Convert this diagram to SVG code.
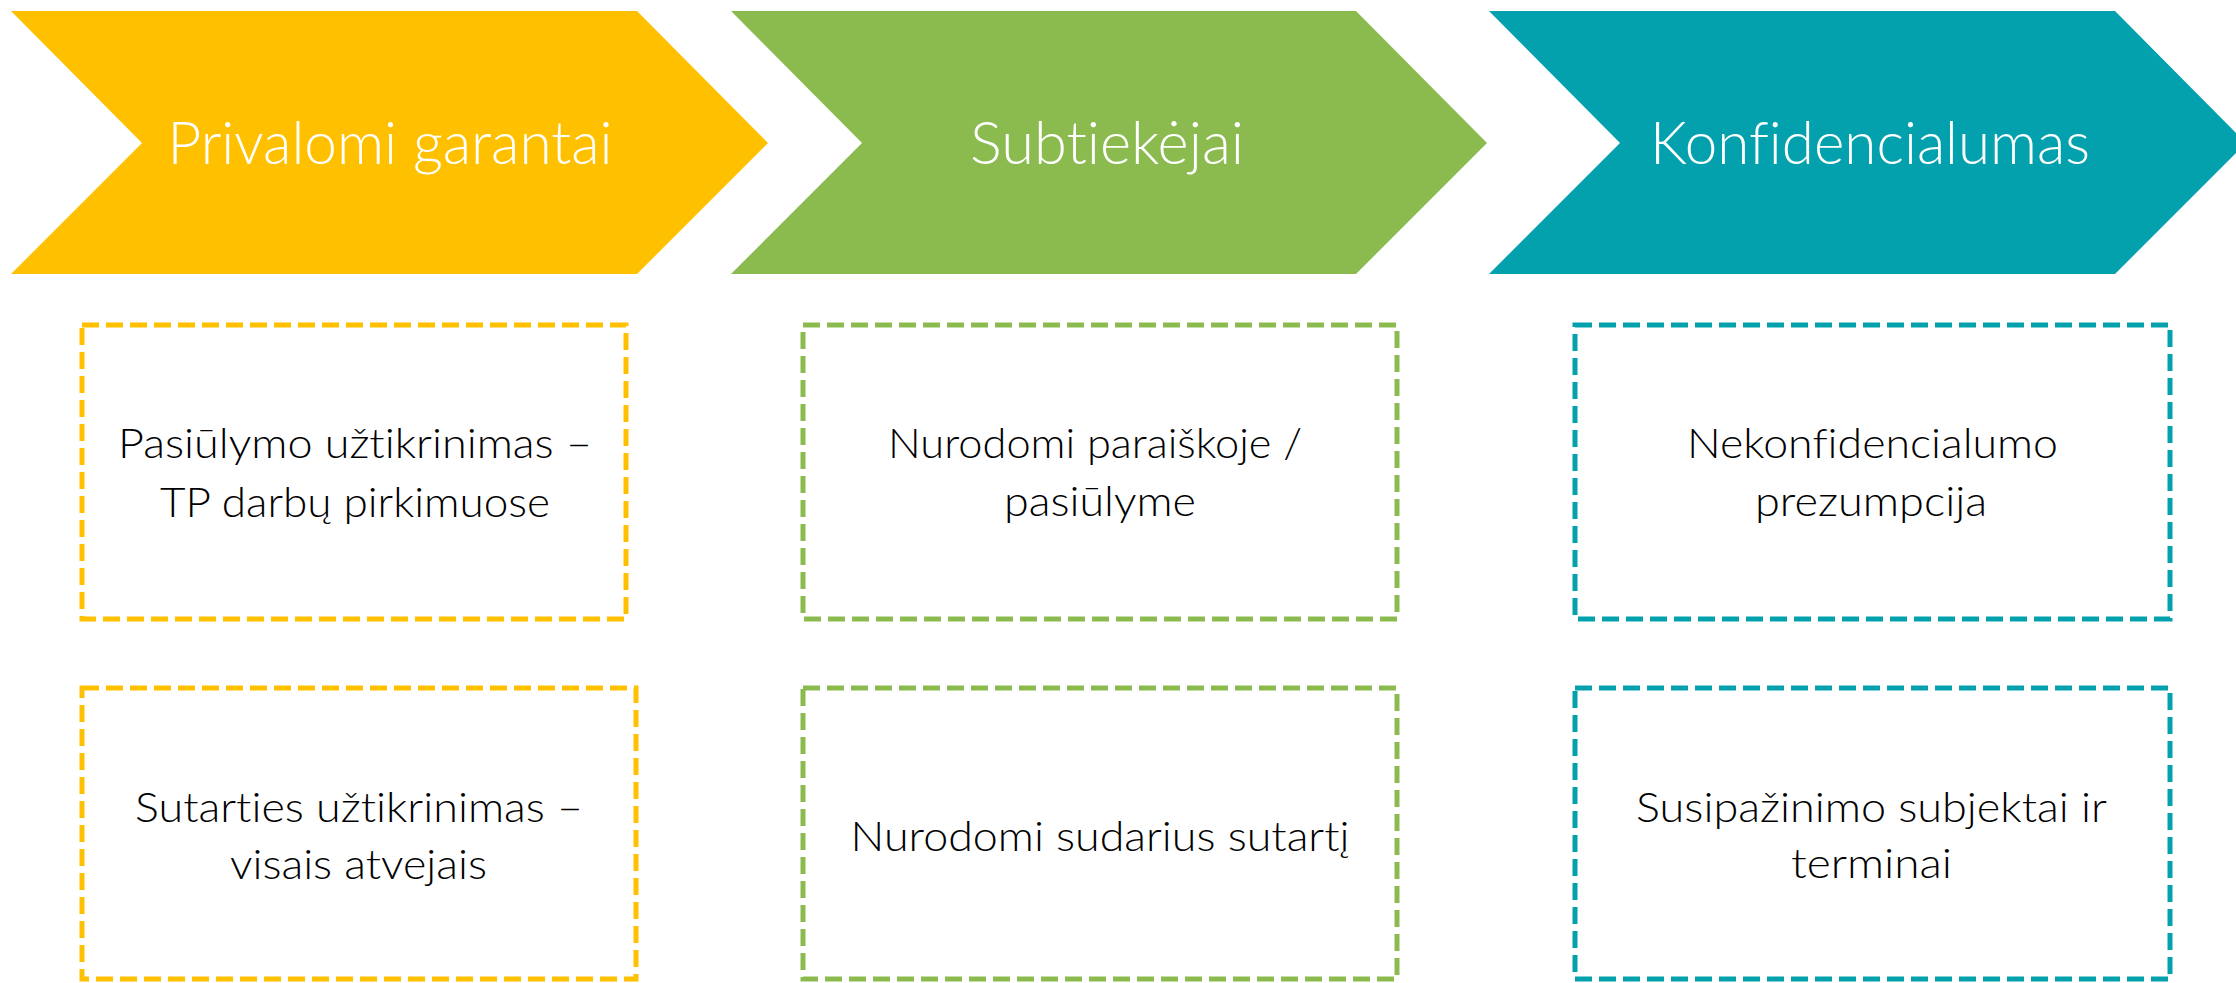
<svg xmlns="http://www.w3.org/2000/svg" width="2236" height="983" viewBox="0 0 2236 983">
<style>
.head{font-family:Lato,"Open Sans","Liberation Sans",sans-serif;font-weight:300;font-size:60px;fill:#FFFFFF;text-anchor:middle;font-variant-ligatures:none}
.body{font-family:Lato,"Open Sans","Liberation Sans",sans-serif;font-weight:300;font-size:42px;fill:#000000;text-anchor:middle;font-variant-ligatures:none}
.box{fill:none;stroke-width:5;stroke-dasharray:17 7}
.y{stroke:#FFC000}.g{stroke:#8BBB4F}.t{stroke:#03A1AD}
</style>
<rect width="2236" height="983" fill="#FFFFFF"/>
<g id="chevron-privalomi">
<polygon points="11,11 637,11 768,143 637,274 11,274 142,143" fill="#FFC000"/>
<text class="head" x="390" y="164" textLength="445" lengthAdjust="spacingAndGlyphs">Privalomi garantai</text>
</g>
<g id="chevron-subtiekejai">
<polygon points="731,11 1356,11 1487,143 1356,274 731,274 862,143" fill="#8BBB4F"/>
<text class="head" x="1107" y="164" textLength="274" lengthAdjust="spacingAndGlyphs">Subtiekėjai</text>
</g>
<g id="chevron-konfidencialumas">
<polygon points="1489,11 2115,11 2246,143 2115,274 1489,274 1620,143" fill="#03A1AD"/>
<text class="head" x="1870" y="164" textLength="440" lengthAdjust="spacingAndGlyphs">Konfidencialumas</text>
</g>
<g id="box-pasiulymo">
<rect class="box y" x="82" y="325" width="544" height="294"/>
<text class="body" x="355" y="458" textLength="474" lengthAdjust="spacingAndGlyphs">Pasiūlymo užtikrinimas –</text>
<text class="body" x="355" y="517" textLength="390" lengthAdjust="spacingAndGlyphs">TP darbų pirkimuose</text>
</g>
<g id="box-sutarties">
<rect class="box y" x="82" y="688" width="554" height="291"/>
<text class="body" x="359" y="822" textLength="448" lengthAdjust="spacingAndGlyphs">Sutarties užtikrinimas –</text>
<text class="body" x="358.5" y="879" textLength="257" lengthAdjust="spacingAndGlyphs">visais atvejais</text>
</g>
<g id="box-paraiskoje">
<rect class="box g" x="803" y="325" width="594" height="294"/>
<text class="body" x="1095" y="458" textLength="414" lengthAdjust="spacingAndGlyphs">Nurodomi paraiškoje /</text>
<text class="body" x="1100" y="516" textLength="192" lengthAdjust="spacingAndGlyphs">pasiūlyme</text>
</g>
<g id="box-sudarius">
<rect class="box g" x="803" y="688" width="594" height="291"/>
<text class="body" x="1100" y="851" textLength="499" lengthAdjust="spacingAndGlyphs">Nurodomi sudarius sutartį</text>
</g>
<g id="box-nekonfidencialumo">
<rect class="box t" x="1575" y="325" width="595" height="294"/>
<text class="body" x="1872.5" y="458" textLength="371" lengthAdjust="spacingAndGlyphs">Nekonfidencialumo</text>
<text class="body" x="1871" y="516" textLength="232" lengthAdjust="spacingAndGlyphs">prezumpcija</text>
</g>
<g id="box-susipazinimo">
<rect class="box t" x="1575" y="688" width="595" height="291"/>
<text class="body" x="1871.5" y="822" textLength="471" lengthAdjust="spacingAndGlyphs">Susipažinimo subjektai ir</text>
<text class="body" x="1871.5" y="878" textLength="161" lengthAdjust="spacingAndGlyphs">terminai</text>
</g>
<g id="connectors"></g>
</svg>
